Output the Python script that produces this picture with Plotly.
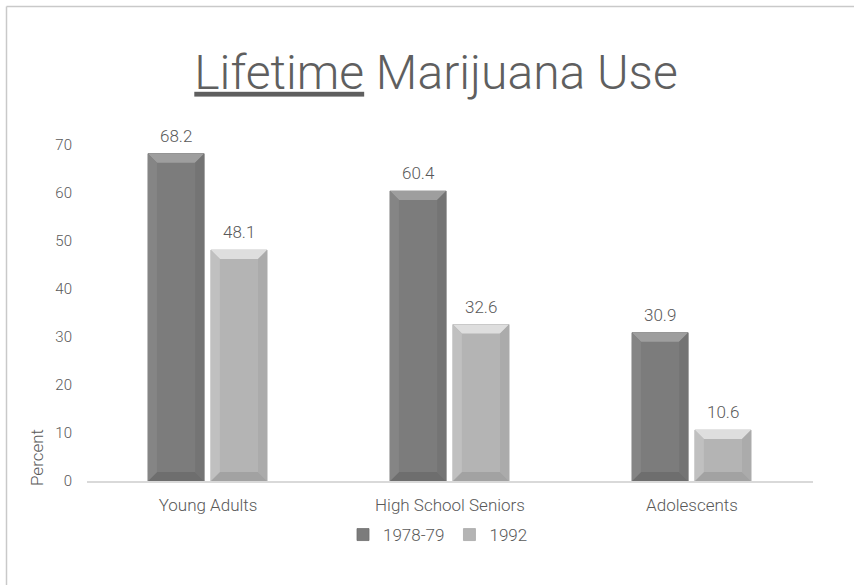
import plotly.graph_objects as go

# Lifetime marijuana use by age group, two survey periods
categories = ["Young Adults", "High School Seniors", "Adolescents"]
series_names = ["1978-79", "1992"]
values_1978 = [68.2, 60.4, 30.9]
values_1992 = [48.1, 32.6, 10.6]
y_ticks = [0, 10, 20, 30, 40, 50, 60, 70]

W, H = 854, 585
M_L, M_R, M_T, M_B = 87, 41, 145, 104
plot_w = W - M_L - M_R
plot_h = H - M_T - M_B
y_max = 70

TXT = "#595959"
FONT = "Roboto, Liberation Sans, Arial, sans-serif"
LIGHT = 300

# bar face / bevel colours per series
styles = [
    dict(face="#7c7c7c", top="#9e9e9e", left="#858585", right="#747474", bottom="#6e6e6e", line="#6e6e6e"),
    dict(face="#b4b4b4", top="#dedede", left="#c0c0c0", right="#ababab", bottom="#a2a2a2", line="#a9a9a9"),
]
bar_width = 0.232
offsets = [-0.248, 0.012]

x_idx = list(range(len(categories)))

fig = go.Figure()
for name, vals, st, off in zip(series_names, [values_1978, values_1992], styles, offsets):
    fig.add_trace(go.Bar(
        x=x_idx, y=vals, name=name,
        width=bar_width, offset=off,
        marker=dict(color=st["face"], line=dict(color=st["line"], width=0.8)),
    ))

# value labels above each bar
annotations = []
for vals, off in zip([values_1978, values_1992], offsets):
    for xi, v in zip(x_idx, vals):
        annotations.append(dict(
            x=xi + off + bar_width / 2, y=v, xref="x", yref="y",
            text=f"{v:.1f}", showarrow=False, yanchor="bottom", yshift=6,
            font=dict(size=17, color=TXT, family=FONT, weight=LIGHT),
        ))

# bevelled edges on each bar, derived from the bar's value
bev_x = 9 / (plot_w / 3.0)
bev_y = 9 / (plot_h / y_max)
shapes = []
for vals, st, off in zip([values_1978, values_1992], styles, offsets):
    for xi, v in zip(x_idx, vals):
        x0 = xi + off
        x1 = x0 + bar_width
        by = min(bev_y, v / 2.0)
        pieces = [
            (st["top"], [(x0, v), (x1, v), (x1 - bev_x, v - by), (x0 + bev_x, v - by)]),
            (st["bottom"], [(x0, 0), (x1, 0), (x1 - bev_x, by), (x0 + bev_x, by)]),
            (st["left"], [(x0, 0), (x0 + bev_x, by), (x0 + bev_x, v - by), (x0, v)]),
            (st["right"], [(x1, 0), (x1 - bev_x, by), (x1 - bev_x, v - by), (x1, v)]),
        ]
        for col, pts in pieces:
            path = "M " + " L ".join(f"{px},{py}" for px, py in pts) + " Z"
            shapes.append(dict(type="path", xref="x", yref="y", path=path,
                               fillcolor=col, line=dict(width=0), layer="above"))

# thin frame along the top and left edges
fx0 = (6.5 - M_L) / plot_w
fx1 = (W - M_L) / plot_w
fy_top = (H - M_B - 6.5) / plot_h
fy_bot = (H - M_B - H) / plot_h
for (a, b, c, d) in [(fx0, fy_top, fx1, fy_top), (fx0, fy_top, fx0, fy_bot)]:
    shapes.append(dict(type="line", xref="paper", yref="paper", x0=a, y0=b, x1=c, y1=d,
                       line=dict(color="#c9c9c9", width=1.5)))

annotations.append(dict(
    text="Percent", textangle=-90, xref="paper", yref="paper",
    x=(37 - M_L) / plot_w, y=(H - M_B - 458) / plot_h,
    xanchor="center", yanchor="middle", showarrow=False,
    font=dict(size=17, color=TXT, family=FONT, weight=LIGHT),
))

fig.update_layout(
    width=W, height=H,
    margin=dict(l=M_L, r=M_R, t=M_T, b=M_B),
    paper_bgcolor="white", plot_bgcolor="white",
    barmode="overlay",
    showlegend=True,
    title=dict(
        text="<u>Lifetime</u> Marijuana Use",
        font=dict(size=48, color="#5f5f5f", family=FONT, weight=LIGHT),
        x=(436 - M_L) / plot_w, xref="paper", xanchor="center",
        y=1 - 72 / H, yref="container", yanchor="middle",
    ),
    xaxis=dict(
        range=[-0.5, 2.5], tickmode="array", tickvals=x_idx, ticktext=categories,
        showline=True, linecolor="#d9d9d9", linewidth=1.5, showgrid=False, zeroline=False,
        ticks="", tickfont=dict(size=17, color=TXT, family=FONT, weight=LIGHT), ticklabelstandoff=8,
    ),
    yaxis=dict(
        range=[0, y_max], tickmode="array", tickvals=y_ticks,
        showgrid=False, zeroline=False, showline=False, ticks="",
        tickfont=dict(size=15, color=TXT, family=FONT, weight=LIGHT), ticklabelstandoff=14,
    ),
    legend=dict(
        orientation="h", x=(438 - M_L) / plot_w, xanchor="center",
        y=(H - M_B - 535) / plot_h, yanchor="middle",
        font=dict(size=17, color=TXT, family=FONT, weight=LIGHT),
        itemwidth=30, traceorder="normal",
    ),
    annotations=annotations,
    shapes=shapes,
)

fig.write_html("out.html")
